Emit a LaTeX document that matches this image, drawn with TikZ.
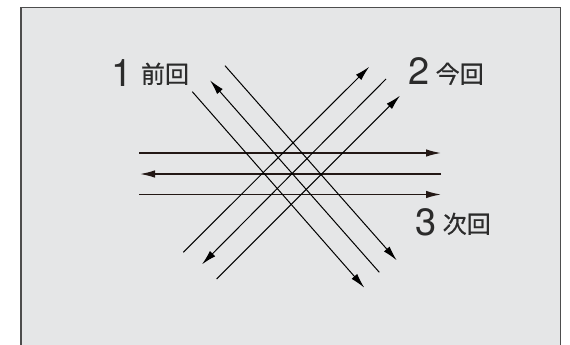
\documentclass[tikz,border=0pt]{standalone}
\usepackage{fontspec}
\setmainfont{TeX Gyre Heros}
\newfontfamily\jp[FakeBold=0.6]{Noto Sans CJK JP}
\usetikzlibrary{arrows.meta}
\definecolor{panel}{HTML}{E5E6E7}
\definecolor{frameC}{HTML}{4D4D4D}
\definecolor{ink}{HTML}{231815}
\definecolor{txt}{HTML}{2B2B2B}
\tikzset{
  hline/.style={draw=ink, line width=1.4pt, -{Latex[length=15pt,width=7.5pt]}},
  dline/.style={draw=black, line width=1pt, -{Latex[length=15pt,width=7.5pt]}},
  digit/.style={inner sep=0pt, font=\fontsize{38}{38}\selectfont, text=txt},
  kanji/.style={inner sep=0pt, font=\jp\fontsize{24}{24}\selectfont, text=txt},
}
\begin{document}
\begin{tikzpicture}[x=1pt,y=-1pt]
\useasboundingbox (0,0) rectangle (570,345);
\path[fill=panel, draw=frameC, line width=1.5pt] (21,7.5) rectangle (560.5,360);
% horizontal
\coordinate (h1a) at (139,153);   \coordinate (h1b) at (441,153);
\coordinate (h2a) at (441,174);   \coordinate (h2b) at (140,174);
\coordinate (h3a) at (139,194.5); \coordinate (h3b) at (441,194.5);
\draw[hline] (h1a) -- (h1b);
\draw[hline] (h2a) -- (h2b);
\draw[hline] (h3a) -- (h3b);
% down-right
\coordinate (aa) at (192.3,91.7);  \coordinate (ab) at (364.3,287.7);
\coordinate (ba) at (379.3,272.3); \coordinate (bb) at (210,80.3);
\coordinate (ca) at (225,65.7);    \coordinate (cb) at (396.7,260.3);
\draw[dline] (aa) -- (ab);
\draw[dline] (ba) -- (bb);
\draw[dline] (ca) -- (cb);
% up-right
\coordinate (da) at (183.3,252.3); \coordinate (db) at (369.3,66.7);
\coordinate (ea) at (386,79);      \coordinate (eb) at (202,264.3);
\coordinate (fa) at (216.7,279);   \coordinate (fb) at (400,95.7);
\draw[dline] (da) -- (db);
\draw[dline] (ea) -- (eb);
\draw[dline] (fa) -- (fb);
% labels
\node[digit] (n1) at (122.5,73.3) {1};
\node[kanji] (k1) at (165,73.8) {前回};
\node[digit] (n2) at (419,71.5) {2};
\node[kanji] (k2) at (459.7,73.8) {今回};
\node[digit] (n3) at (425.8,222.5) {3};
\node[kanji] (k3) at (466.7,223.8) {次回};
\end{tikzpicture}
\end{document}
